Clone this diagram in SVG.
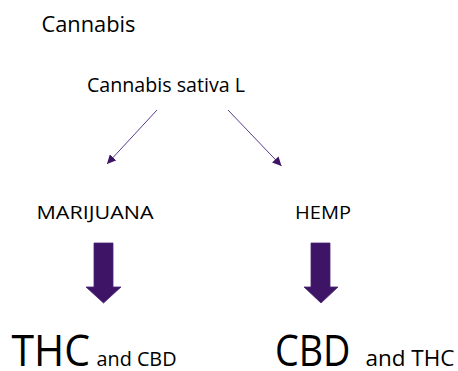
<svg xmlns="http://www.w3.org/2000/svg" width="458" height="371" viewBox="0 0 458 371">
  <style>
    text { font-family: "Open Sans", "Noto Sans", "Liberation Sans", sans-serif; fill: #000; }
    .thin { stroke: #5b3b8c; stroke-width: 1; fill: none; marker-end: url(#ah); }
    .block { fill: #3d1466; stroke: #4a2373; stroke-width: 0.8; }
  </style>
  <defs>
    <marker id="ah" markerUnits="userSpaceOnUse" markerWidth="10" markerHeight="9" refX="9" refY="4.5" orient="auto">
      <path d="M0,0 L9,4.5 L0,9 z" fill="#3d1466"/>
    </marker>
  </defs>
  <rect width="458" height="371" fill="#fff"/>
  <g id="title">
    <text x="41.5" y="32" font-size="22" textLength="94" lengthAdjust="spacingAndGlyphs">Cannabis</text>
  </g>
  <g id="species">
    <text x="87" y="92" font-size="20" textLength="158" lengthAdjust="spacingAndGlyphs">Cannabis sativa L</text>
  </g>
  <g id="marijuana">
    <text x="36.5" y="219" font-size="18" textLength="117" lengthAdjust="spacingAndGlyphs">MARIJUANA</text>
  </g>
  <g id="hemp">
    <text x="295" y="219" font-size="18" textLength="56" lengthAdjust="spacingAndGlyphs">HEMP</text>
  </g>
  <g id="thc">
    <text x="11.5" y="366" font-size="43" textLength="78.5" lengthAdjust="spacingAndGlyphs">THC</text>
    <text x="96.5" y="366" font-size="20" textLength="80" lengthAdjust="spacingAndGlyphs">and CBD</text>
  </g>
  <g id="cbd">
    <text x="275" y="366" font-size="43" textLength="75.5" lengthAdjust="spacingAndGlyphs">CBD</text>
    <text x="365.5" y="366" font-size="21" textLength="89" lengthAdjust="spacingAndGlyphs">and THC</text>
  </g>
  <g id="connectors">
    <line class="thin" x1="157" y1="110" x2="107" y2="164"/>
    <line class="thin" x1="228" y1="110" x2="281.5" y2="166"/>
    <path class="block" d="M94,243 H113 V287 H121 L103.5,303 L86,287 H94 Z"/>
    <path class="block" d="M311,243 H330 V287 H338 L321,303 L304,287 H311 Z"/>
  </g>
</svg>
